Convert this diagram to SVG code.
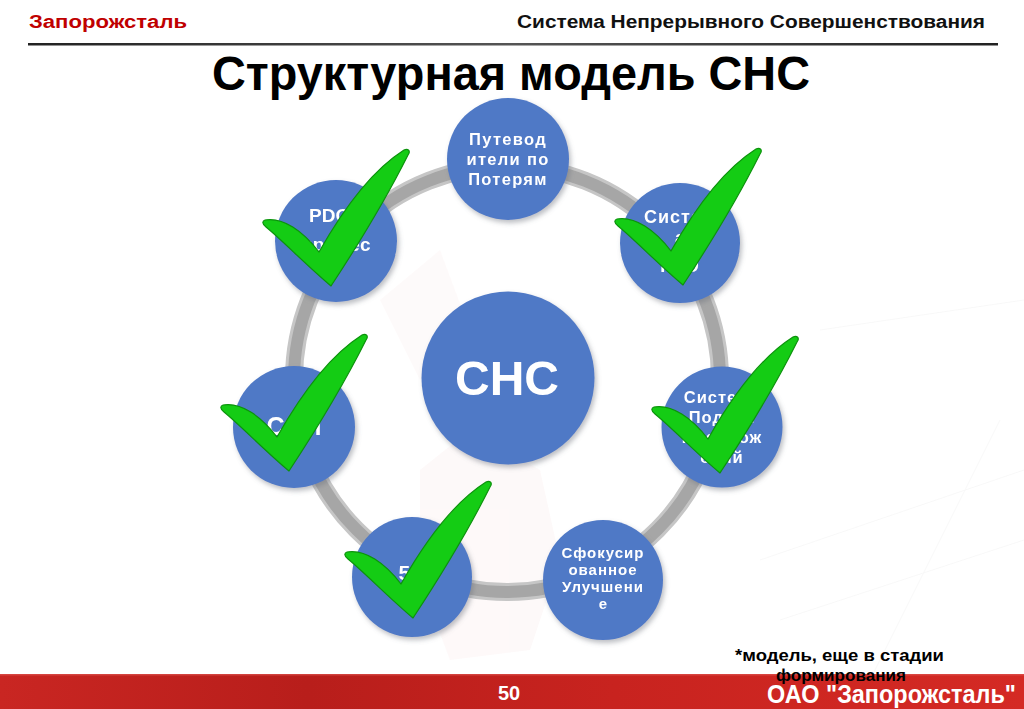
<svg xmlns="http://www.w3.org/2000/svg" xmlns:xlink="http://www.w3.org/1999/xlink" width="1024" height="709" viewBox="0 0 1024 709">
<defs>
<style>
.hdr{font-family:"Liberation Sans",Arial,sans-serif;font-weight:bold}
.nt{font-family:"Liberation Sans",Arial,sans-serif;font-weight:bold;fill:#ffffff;text-anchor:middle}
.node{fill:#5079c6}
.chk{fill:#14cc14;stroke:#0c920c;stroke-width:1.2;stroke-linejoin:round}
</style>
<filter id="sh" x="-20%" y="-20%" width="140%" height="140%">
<feGaussianBlur in="SourceAlpha" stdDeviation="2.5"/>
<feOffset dx="2" dy="3" result="b"/>
<feFlood flood-color="#6a6f7a" flood-opacity="0.45"/>
<feComposite in2="b" operator="in"/>
<feMerge><feMergeNode/><feMergeNode in="SourceGraphic"/></feMerge>
</filter>
<linearGradient id="bar" x1="0" y1="0" x2="1" y2="0">
<stop offset="0" stop-color="#c92622"/>
<stop offset="0.3" stop-color="#b81e1b"/>
<stop offset="0.6" stop-color="#c8231f"/>
<stop offset="1" stop-color="#d42a24"/>
</linearGradient>
<linearGradient id="hl" x1="0" y1="0" x2="1" y2="0">
<stop offset="0" stop-color="#222"/>
<stop offset="0.5" stop-color="#555"/>
<stop offset="1" stop-color="#222"/>
</linearGradient>
<path id="chk" d="M -63,-63 C -45,-66 -25,-52 -9,-31 C 13,-70 43,-112 76,-133 C 80,-135 83,-132 80,-128 C 60,-88 30,-38 3,3 C -22,-18 -46,-43 -62,-56 C -66,-59 -66,-62 -63,-63 Z"/>
</defs>
<rect width="1024" height="709" fill="#ffffff"/>
<!-- faint background watermark -->
<g id="watermark" opacity="0.35">
<path d="M 420,470 L 470,430 L 540,470 L 560,560 L 530,650 L 450,660 L 420,580 Z" fill="#fbeeee"/>
<path d="M 380,300 L 440,250 L 470,330 L 420,380 Z" fill="#fcf1f1"/>
<g stroke="#ececec" stroke-width="1" fill="none">
<line x1="760" y1="560" x2="1024" y2="470"/>
<line x1="780" y1="620" x2="1024" y2="540"/>
<line x1="820" y1="330" x2="1024" y2="300"/>
<line x1="860" y1="700" x2="1000" y2="420"/>
</g>
</g>
<!-- header -->
<g id="header">
<text class="hdr" x="29" y="28" font-size="18" fill="#c00000" textLength="158" lengthAdjust="spacingAndGlyphs">Запорожсталь</text>
<text class="hdr" x="517" y="28" font-size="18" fill="#111111" textLength="468" lengthAdjust="spacingAndGlyphs">Система Непрерывного Совершенствования</text>
<rect x="28" y="43" width="970" height="2.5" fill="url(#hl)"/>
<text class="hdr" x="212" y="90" font-size="48" fill="#000000" textLength="598" lengthAdjust="spacingAndGlyphs">Структурная модель СНС</text>
</g>
<!-- connectors: ring -->
<g id="connectors" fill="none">
<circle cx="507" cy="379" r="213" stroke="#c6c6c6" stroke-width="18"/>
<circle cx="507" cy="379" r="213" stroke="#a6a6a6" stroke-width="12"/>
</g>
<!-- center -->
<g id="node-center" filter="url(#sh)">
<circle class="node" cx="508" cy="378" r="86.5"/>
<text class="nt" x="507" y="395" font-size="48">СНС</text>
</g>
<g id="node-top" filter="url(#sh)">
<circle class="node" cx="508" cy="159" r="61"/>
<text class="nt" x="508" y="145" font-size="16.5" letter-spacing="1.3">Путевод</text>
<text class="nt" x="508" y="165" font-size="16.5" letter-spacing="1.3">ители по</text>
<text class="nt" x="508" y="185" font-size="16.5" letter-spacing="1.3">Потерям</text>
</g>
<g id="node-kpe" filter="url(#sh)">
<circle class="node" cx="680" cy="243" r="60"/>
<text class="nt" x="680" y="223" font-size="18" letter-spacing="1">Систем</text>
<text class="nt" x="680" y="244" font-size="18">а</text>
<text class="nt" x="680" y="272" font-size="18" letter-spacing="1">КПЭ</text>
</g>
<g id="node-podachi" filter="url(#sh)">
<circle class="node" cx="722" cy="427" r="60.5"/>
<text class="nt" x="722" y="403" font-size="16.5" letter-spacing="1">Система</text>
<text class="nt" x="722" y="423" font-size="16.5" letter-spacing="1">Подачи</text>
<text class="nt" x="722" y="443" font-size="16.5" letter-spacing="1">Предлож</text>
<text class="nt" x="722" y="463" font-size="16.5" letter-spacing="1">ений</text>
</g>
<g id="node-focus" filter="url(#sh)">
<circle class="node" cx="603" cy="580" r="60"/>
<text class="nt" x="603" y="558" font-size="15" letter-spacing="1">Сфокусир</text>
<text class="nt" x="603" y="575" font-size="15" letter-spacing="1">ованное</text>
<text class="nt" x="603" y="592" font-size="15" letter-spacing="1">Улучшени</text>
<text class="nt" x="603" y="609" font-size="15">е</text>
</g>
<g id="node-5s" filter="url(#sh)">
<circle class="node" cx="412" cy="577" r="60"/>
<text class="nt" x="412" y="580" font-size="21">5С</text>
</g>
<g id="node-sop" filter="url(#sh)">
<circle class="node" cx="294" cy="427" r="61"/>
<text class="nt" x="294" y="435" font-size="25">СОП</text>
</g>
<g id="node-pdca" filter="url(#sh)">
<circle class="node" cx="336" cy="241" r="61"/>
<text class="nt" x="336" y="222" font-size="19">PDCA</text>
<text class="nt" x="336" y="251" font-size="19" letter-spacing="0.5">процес</text>
<text class="nt" x="336" y="273" font-size="19">с</text>
</g>
<!-- check marks -->
<g id="checks" class="chk">
<use xlink:href="#chk" transform="translate(328,283)"/>
<use xlink:href="#chk" transform="translate(680,282)"/>
<use xlink:href="#chk" transform="translate(717,470)"/>
<use xlink:href="#chk" transform="translate(286,468)"/>
<use xlink:href="#chk" transform="translate(410,615)"/>
</g>
<!-- footer -->
<g id="footer">
<rect x="0" y="674" width="1024" height="35" fill="url(#bar)"/>
<rect x="0" y="674" width="1024" height="1.5" fill="#e05a55" opacity="0.6"/>
<text class="hdr" x="509" y="700" font-size="20" fill="#ffffff" text-anchor="middle">50</text>
<text class="hdr" x="767" y="703" font-size="26" fill="#ffffff" textLength="249" lengthAdjust="spacingAndGlyphs">ОАО "Запорожсталь"</text>
<text class="hdr" x="735" y="661" font-size="17" fill="#000000" textLength="209" lengthAdjust="spacingAndGlyphs">*модель, еще в стадии</text>
<text class="hdr" x="776" y="681" font-size="17" fill="#000000" textLength="130" lengthAdjust="spacingAndGlyphs">формирования</text>
</g>
</svg>
